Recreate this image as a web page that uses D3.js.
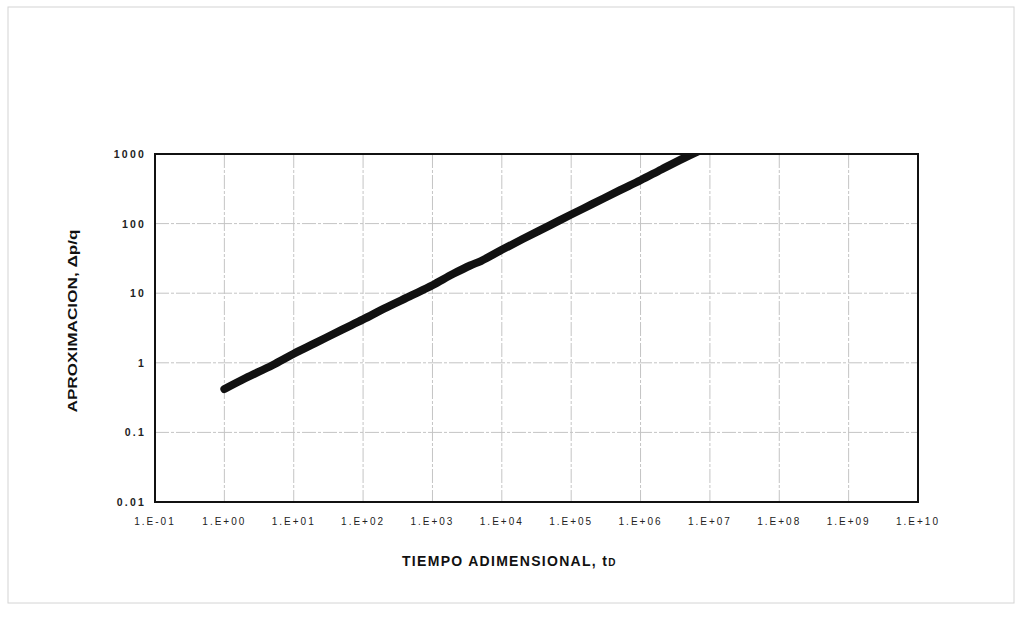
<!DOCTYPE html>
<html><head><meta charset="utf-8">
<script src="https://cdn.jsdelivr.net/npm/d3@7"></script>
<style>body{margin:0;background:#fff}svg{display:block}</style>
</head><body>
<svg id="c" width="1023" height="619"></svg>
<script>
const tD = [1, 2, 5, 10, 20, 50, 100, 200, 500, 1000, 2000, 3500, 5000, 10000, 20000, 50000, 100000, 200000, 500000, 1000000, 2000000, 5000000, 7000000];
const dpq = [0.42, 0.6, 0.93, 1.35, 1.9, 3.0, 4.2, 6.0, 9.3, 13, 19, 25, 29, 42, 60, 95, 135, 190, 300, 420, 600, 950, 1110];
const xTicks = [1e-1, 1e0, 1e1, 1e2, 1e3, 1e4, 1e5, 1e6, 1e7, 1e8, 1e9, 1e10];
const xTickLabels = ["1.E-01","1.E+00","1.E+01","1.E+02","1.E+03","1.E+04","1.E+05","1.E+06","1.E+07","1.E+08","1.E+09","1.E+10"];
const yTicks = [0.01, 0.1, 1, 10, 100, 1000];
const yTickLabels = ["0.01","0.1","1","10","100","1000"];

const svg = d3.select("#c");
const L = 155, R = 918, T = 154, B = 502;
const x = d3.scaleLog().domain([1e-1, 1e10]).range([L, R]);
const y = d3.scaleLog().domain([0.01, 1000]).range([B, T]);

// outer frame
svg.append("rect").attr("x", 8).attr("y", 7).attr("width", 1006).attr("height", 596)
  .attr("fill", "none").attr("stroke", "#d4d4d4").attr("stroke-width", 1);

// grid
svg.append("g").selectAll("line").data(xTicks.slice(1, -1)).join("line")
  .attr("x1", d => x(d)).attr("x2", d => x(d)).attr("y1", T).attr("y2", B)
  .attr("stroke", "#c4c4c4").attr("stroke-width", 1).attr("stroke-dasharray", "14,2,3,2");
svg.append("g").selectAll("line").data(yTicks.slice(1, -1)).join("line")
  .attr("x1", L).attr("x2", R).attr("y1", d => y(d)).attr("y2", d => y(d))
  .attr("stroke", "#c4c4c4").attr("stroke-width", 1).attr("stroke-dasharray", "14,2,3,2");

// clip
svg.append("clipPath").attr("id", "pc").append("rect")
  .attr("x", L).attr("y", T).attr("width", R - L).attr("height", B - T);

// series
const line = d3.line().x((d, i) => x(tD[i])).y((d, i) => y(dpq[i])).curve(d3.curveMonotoneX);
svg.append("path").datum(dpq).attr("d", line).attr("clip-path", "url(#pc)")
  .attr("fill", "none").attr("stroke", "#111").attr("stroke-width", 8).attr("stroke-linecap", "round");

// plot frame
svg.append("rect").attr("x", L).attr("y", T).attr("width", R - L).attr("height", B - T)
  .attr("fill", "none").attr("stroke", "#111").attr("stroke-width", 2);

const font = "Liberation Sans, Arial, sans-serif";
// x tick labels
svg.append("g").selectAll("text").data(xTicks).join("text")
  .attr("x", d => x(d)).attr("y", 525).attr("text-anchor", "middle")
  .attr("font-family", font).attr("font-size", 10).attr("letter-spacing", 2).attr("fill", "#222")
  .text((d, i) => xTickLabels[i]);
// y tick labels
svg.append("g").selectAll("text").data(yTicks).join("text")
  .attr("x", 146).attr("y", d => y(d) + 4).attr("text-anchor", "end")
  .attr("font-family", font).attr("font-size", 10.5).attr("font-weight", "bold").attr("letter-spacing", 2.2).attr("fill", "#222")
  .text((d, i) => yTickLabels[i]);

// x title
const xt = svg.append("text").attr("x", 402).attr("y", 566)
  .attr("font-family", font).attr("font-size", 14).attr("font-weight", "bold").attr("fill", "#111")
  .attr("letter-spacing", 1.3);
xt.append("tspan").text("TIEMPO ADIMENSIONAL, t");
xt.append("tspan").attr("font-size", 10).text("D");

// y title
svg.append("text").attr("transform", "translate(77,321) rotate(-90)").attr("text-anchor", "middle")
  .attr("font-family", font).attr("font-size", 12).attr("font-weight", "bold").attr("fill", "#111")
  .attr("textLength", 183).attr("lengthAdjust", "spacingAndGlyphs")
  .text("APROXIMACION, \u0394p/q");
</script>
</body></html>
